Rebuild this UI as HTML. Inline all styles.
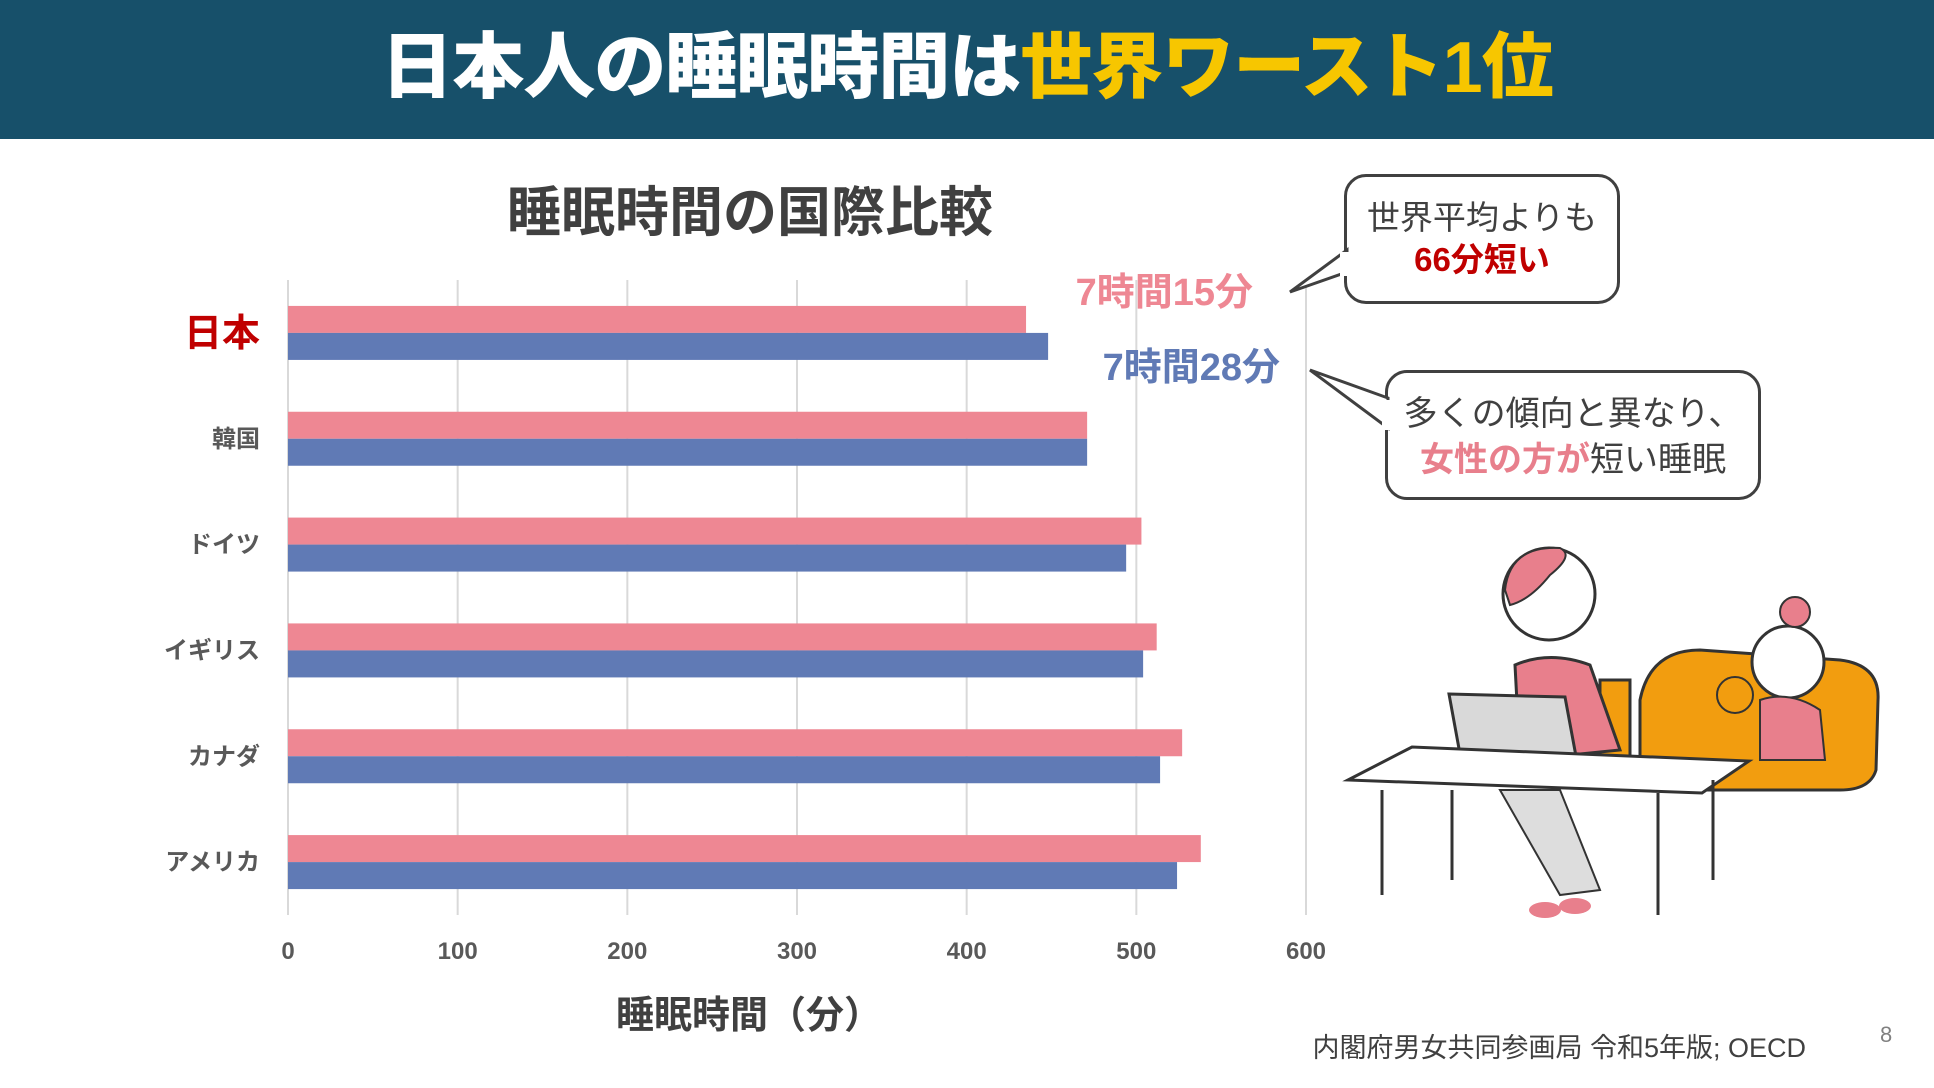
<!DOCTYPE html>
<html lang="ja"><head><meta charset="utf-8">
<style>
body{margin:0;width:1934px;height:1088px;overflow:hidden;background:#fff;font-family:"Liberation Sans","Noto Sans CJK JP",sans-serif;position:relative}
.abs{position:absolute}
</style></head><body>
<div class="abs" style="left:0;top:0;width:1934px;height:139px;background:#17506a"></div>
<div class="abs" style="left:0;top:18px;width:1934px;text-align:center;font-size:72px;font-weight:900;color:#fff;line-height:100px;letter-spacing:-1px">日本人の睡眠時間は<span style="color:#f7c600">世界ワースト1位</span></div>
<div class="abs" style="left:450px;top:180px;width:600px;text-align:center;font-size:54px;font-weight:700;color:#404040;line-height:66px">睡眠時間の国際比較</div>

<svg class="abs" style="left:0;top:0" width="1934" height="1088" id="chart"></svg>

<div class="abs" style="left:1344px;top:174px;width:276px;height:130px;border:3px solid #404040;border-radius:22px;background:#fff;text-align:center;font-size:33px;line-height:42px;color:#404040;padding-top:20px;box-sizing:border-box">世界平均よりも<br><span style="color:#c00000;font-weight:700">66分短い</span></div>
<div class="abs" style="left:1385px;top:370px;width:376px;height:130px;border:3px solid #404040;border-radius:22px;background:#fff;text-align:center;font-size:34px;line-height:46px;color:#404040;padding-top:18px;box-sizing:border-box">多くの傾向と異なり、<br><span style="color:#e87f8c;font-weight:700">女性の方が</span>短い睡眠</div>

<svg class="abs" style="left:0;top:0" width="1934" height="1088">
 <polygon points="1290,292 1347,250 1347,272" fill="#fff" stroke="#404040" stroke-width="3"/>
 <polygon points="1310,370 1388,398 1388,428" fill="#fff" stroke="#404040" stroke-width="3"/>
 <rect x="1340" y="252" width="12" height="24" fill="#fff"/>
 <rect x="1382" y="400" width="10" height="30" fill="#fff"/>
 <path d="M1640,790 L1640,700 Q1650,650 1700,650 L1840,660 Q1880,665 1878,700 L1876,770 Q1870,790 1840,790 Z" fill="#f29d0f" stroke="#333" stroke-width="3"/>
 <rect x="1600" y="680" width="30" height="100" fill="#f29d0f" stroke="#333" stroke-width="3"/>
 <circle cx="1788" cy="662" r="36" fill="#fff" stroke="#333" stroke-width="3"/>
 <circle cx="1795" cy="612" r="15" fill="#e87f8c" stroke="#333" stroke-width="2"/>
 <path d="M1760,700 Q1790,690 1820,710 L1825,760 L1760,760 Z" fill="#e87f8c" stroke="#333" stroke-width="2"/>
 <circle cx="1735" cy="695" r="18" fill="#f29d0f" stroke="#333" stroke-width="2"/>
 <circle cx="1549" cy="594" r="46" fill="#fff" stroke="#333" stroke-width="3"/>
 <path d="M1505,590 Q1510,545 1560,548 Q1575,555 1550,575 Q1530,600 1510,605 Z" fill="#e87f8c" stroke="#333" stroke-width="2"/>
 <path d="M1515,665 Q1550,650 1590,665 L1620,750 L1520,760 Z" fill="#e87f8c" stroke="#333" stroke-width="3"/>
 <path d="M1500,790 L1560,790 L1600,890 L1560,895 Z" fill="#ddd" stroke="#333" stroke-width="2"/>
 <ellipse cx="1545" cy="910" rx="16" ry="8" fill="#e87f8c"/>
 <ellipse cx="1575" cy="906" rx="16" ry="8" fill="#e87f8c"/>
 <polygon points="1449,694 1565,697 1578,767 1462,765" fill="#d9d9d9" stroke="#333" stroke-width="3"/>
 <polygon points="1348,780 1412,747 1749,761 1702,793" fill="#fff" stroke="#333" stroke-width="3"/>
 <g stroke="#333" stroke-width="3">
  <line x1="1382" y1="790" x2="1382" y2="895"/><line x1="1452" y1="790" x2="1452" y2="880"/>
  <line x1="1658" y1="793" x2="1658" y2="915"/><line x1="1713" y1="780" x2="1713" y2="880"/>
 </g>
</svg>

<div class="abs" style="left:1303px;top:1030px;width:503px;text-align:right;font-size:27px;color:#404040;line-height:36px">内閣府男女共同参画局 令和5年版; OECD</div>
<div class="abs" style="left:1880px;top:1022px;font-size:22px;color:#808080">8</div>

<script>
const categories=["日本","韓国","ドイツ","イギリス","カナダ","アメリカ"];
const femaleValues=[435,471,503,512,527,538];
const maleValues=[448,471,494,504,514,524];
const tickValues=[0,100,200,300,400,500,600];
const NS="http://www.w3.org/2000/svg";
const svg=document.getElementById('chart');
const x0=288,x1=1306,yTop=280,yBot=915,xMax=600;
const xs=v=>x0+(x1-x0)*v/xMax;
const band=(yBot-yTop)/categories.length;
const yc=i=>yTop+band*(i+0.5);
const barH=27;
function mk(t,a){const e=document.createElementNS(NS,t);for(const k in a)e.setAttribute(k,a[k]);svg.appendChild(e);return e;}
tickValues.forEach(v=>{
 const l=mk('line',{x1:xs(v),x2:xs(v),y1:yTop,y2:yBot,stroke:'#d9d9d9','stroke-width':2});
 
 
 const t=mk('text',{x:xs(v),y:959,'text-anchor':'middle','font-size':24,'font-weight':700,fill:'#595959'});
 t.textContent=v;
 
 
});
categories.forEach((c,i)=>{
 const f=mk('rect',{x:xs(0),y:yc(i)-barH,width:xs(femaleValues[i])-xs(0),height:barH,fill:'#ee8793'});
 
 
 const m=mk('rect',{x:xs(0),y:yc(i),width:xs(maleValues[i])-xs(0),height:barH,fill:'#607ab5'});
 
 
 const jp=i===0;
 const t=mk('text',{x:260,y:yc(i)+(jp?13:8),'text-anchor':'end','font-size':jp?38:24,'font-weight':700,fill:jp?'#c00000':'#595959'});
 t.textContent=c;
 
 
});
const at=mk('text',{x:749,y:1028,'text-anchor':'middle','font-size':38,'font-weight':700,fill:'#404040'});
at.textContent='睡眠時間（分）';


const lf=mk('text',{x:1253,y:305,'text-anchor':'end','font-size':38,'font-weight':700,fill:'#ee8793'});
lf.textContent='7時間15分';


const lm=mk('text',{x:1280,y:380,'text-anchor':'end','font-size':38,'font-weight':700,fill:'#607ab5'});
lm.textContent='7時間28分';


</script>
</body></html>
